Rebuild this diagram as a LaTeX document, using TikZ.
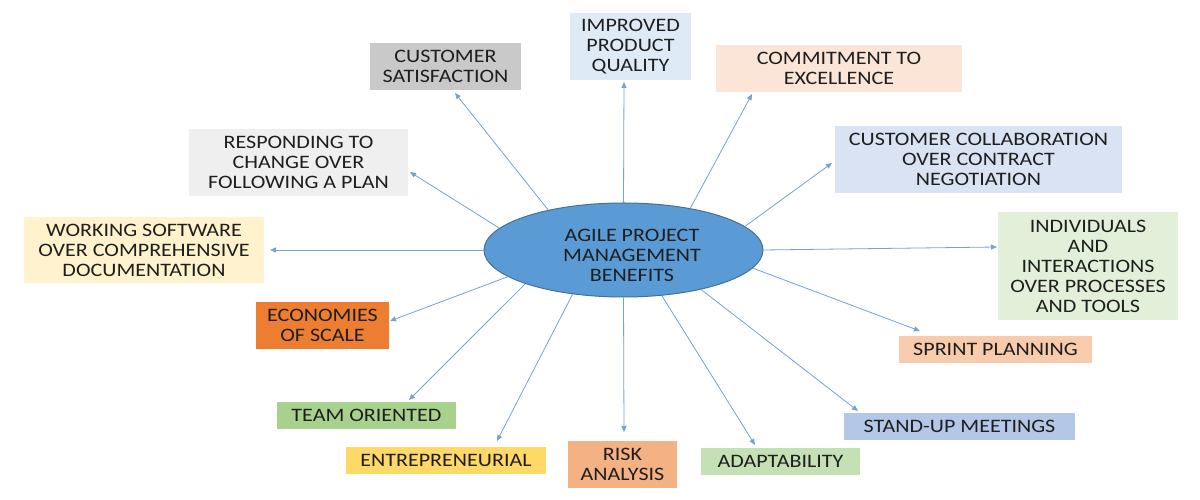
\documentclass[tikz,border=0pt]{standalone}
\usepackage{fontspec}
\setmainfont{Carlito}[FakeStretch=1.16]
\usetikzlibrary{arrows.meta,shapes.geometric}
\definecolor{txt}{HTML}{1E1E1E}
\definecolor{ellfill}{HTML}{5B9BD5}
\definecolor{elldraw}{HTML}{41719C}
\definecolor{arrc}{HTML}{74A3D2}
\definecolor{cIPQ}{HTML}{DEEBF7}
\definecolor{cCS}{HTML}{C9C9C9}
\definecolor{cCE}{HTML}{FBE5D6}
\definecolor{cRC}{HTML}{EFEFEF}
\definecolor{cCC}{HTML}{DAE3F3}
\definecolor{cWS}{HTML}{FFF2CC}
\definecolor{cIND}{HTML}{E2F0D9}
\definecolor{cES}{HTML}{ED7D31}
\definecolor{cSP}{HTML}{F8CBAD}
\definecolor{cTO}{HTML}{A9D18E}
\definecolor{cSU}{HTML}{B4C7E7}
\definecolor{cEN}{HTML}{FFD966}
\definecolor{cRA}{HTML}{F4B183}
\definecolor{cAD}{HTML}{C5E0B4}
\tikzset{
  box/.style={rectangle, inner sep=0pt, align=center, text=txt,
    font=\fontsize{19}{20}\selectfont},
  hub/.style={ellipse, fill=ellfill, draw=elldraw, line width=1pt,
    minimum width=279, minimum height=94, inner sep=0pt,
    text=txt, font=\fontsize{19}{20}\selectfont},
  arr/.style={draw=arrc, line width=0.8pt, -{Triangle[length=6pt,width=5pt]}}
}
\begin{document}
\begin{tikzpicture}[x=1pt,y=1pt]
\useasboundingbox (0,0) rectangle (1200,500);
\fill[white] (0,0) rectangle (1200,500);

\node[hub] (hub) at (623.5,250) {\raisebox{-11.5pt}[0pt][0pt]{\hspace*{17pt}\begin{tabular}{@{}c@{}}AGILE PROJECT\\MANAGEMENT\\BENEFITS\end{tabular}}};

\node[box, fill=cIPQ, minimum width=121, minimum height=67] (ipq) at (630.5,453.5) {IMPROVED\\PRODUCT\\QUALITY};
\node[box, fill=cCS, minimum width=151, minimum height=47] (cs) at (445.5,433.5) {CUSTOMER\\SATISFACTION};
\node[box, fill=cCE, minimum width=246, minimum height=47] (ce) at (839,431.5) {COMMITMENT TO\\EXCELLENCE};
\node[box, fill=cRC, minimum width=219, minimum height=67] (rc) at (298.5,337.5) {RESPONDING TO\\CHANGE OVER\\FOLLOWING A PLAN};
\node[box, fill=cCC, minimum width=287, minimum height=67] (cc) at (978.5,340.5) {CUSTOMER COLLABORATION\\OVER CONTRACT\\NEGOTIATION};
\node[box, fill=cWS, minimum width=240, minimum height=66] (ws) at (144,250) {WORKING SOFTWARE\\OVER COMPREHENSIVE\\DOCUMENTATION};
\node[box, fill=cIND, minimum width=180, minimum height=108] (ind) at (1088,234) {INDIVIDUALS\\AND\\INTERACTIONS\\OVER PROCESSES\\AND TOOLS};
\node[box, fill=cES, minimum width=133, minimum height=47] (es) at (322.5,174.5) {ECONOMIES\\OF SCALE};
\node[box, fill=cSP, minimum width=193, minimum height=27] (sp) at (995.5,150.5) {SPRINT PLANNING};
\node[box, fill=cTO, minimum width=179, minimum height=27] (to) at (366.5,84.5) {TEAM ORIENTED};
\node[box, fill=cSU, minimum width=231, minimum height=27] (su) at (959.5,73.5) {STAND-UP MEETINGS};
\node[box, fill=cEN, minimum width=200, minimum height=27] (en) at (446,39.5) {ENTREPRENEURIAL};
\node[box, fill=cRA, minimum width=109, minimum height=47] (ra) at (622.5,35.5) {RISK\\ANALYSIS};
\node[box, fill=cAD, minimum width=159, minimum height=27] (ad) at (780.5,38.5) {ADAPTABILITY};

\coordinate (tcs) at (455,407);
\coordinate (tipq) at (624,418);
\coordinate (tce) at (752,406);
\coordinate (tcc) at (832,337);
\coordinate (tind) at (997,253);
\coordinate (tsp) at (920,169);
\coordinate (tsu) at (858,89);
\coordinate (tad) at (755,55);
\coordinate (tra) at (624,68);
\coordinate (ten) at (497,59);
\coordinate (tto) at (409,100);
\coordinate (tes) at (390,179);
\coordinate (tws) at (270,250);
\coordinate (trc) at (410,328);

\draw[arr] (hub.152) -- (tcs);
\draw[arr] (hub.90) -- (tipq);
\draw[arr] (hub.32.7) -- (tce);
\draw[arr] (hub.11.4) -- (tcc);
\draw[arr] (hub.0) -- (tind);
\draw[arr] (hub.-8.8) -- (tsp);
\draw[arr] (hub.-27.8) -- (tsu);
\draw[arr] (hub.-50) -- (tad);
\draw[arr] (hub.-90) -- (tra);
\draw[arr] (hub.221) -- (ten);
\draw[arr] (hub.199.7) -- (tto);
\draw[arr] (hub.193.5) -- (tes);
\draw[arr] (hub.180) -- (tws);
\draw[arr] (hub.170) -- (trc);
\end{tikzpicture}
\end{document}
